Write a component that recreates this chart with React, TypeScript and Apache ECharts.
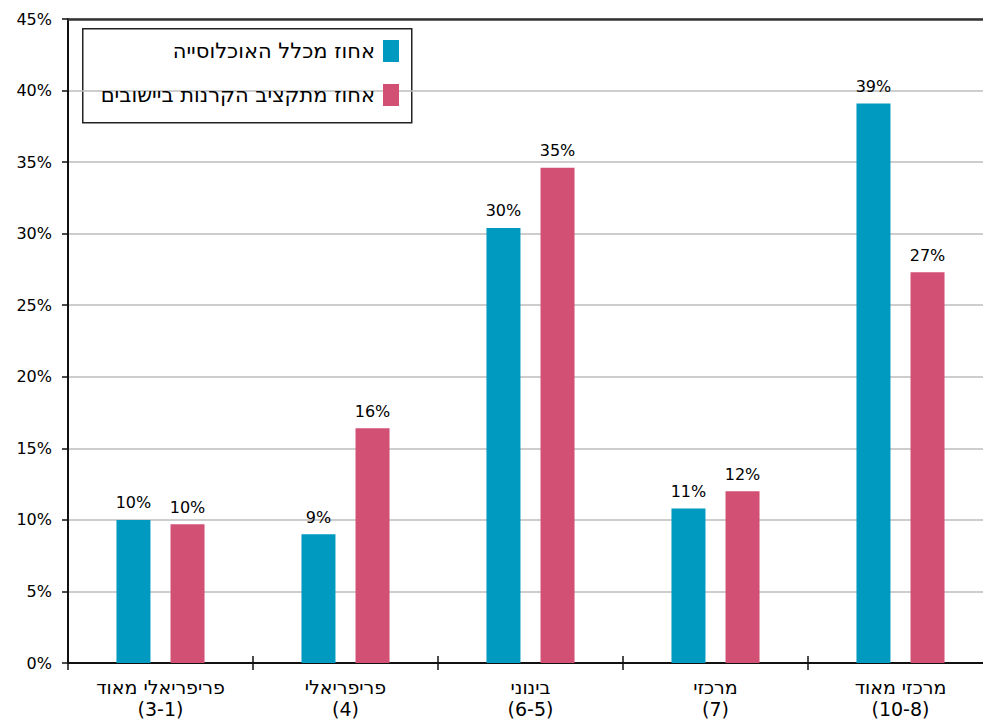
import React, { useEffect, useRef } from "react";
import * as echarts from "echarts";

// Peripherality clusters (Hebrew labels, two lines each)
const categories = [
  "פריפריאלי מאוד\n(3-1)",
  "פריפריאלי\n(4)",
  "בינוני\n(6-5)",
  "מרכזי\n(7)",
  "מרכזי מאוד\n(10-8)",
];

const seriesNames = ["אחוז מכלל האוכלוסייה", "אחוז מתקציב הקרנות ביישובים"];

// Percent of total population
const populationShare = [10.0, 9.0, 30.4, 10.8, 39.1];
// Percent of the funds' budget in localities
const budgetShare = [9.7, 16.4, 34.6, 12.0, 27.3];

const yTicks = { min: 0, max: 45, interval: 5 };

const BLUE = "#009ac1";
const PINK = "#d15073";
const FONT = "DejaVu Sans";
const HEB_FONT = "DejaVu Sans";

export default function App() {
  const ref = useRef<HTMLDivElement>(null);

  useEffect(() => {
    if (!ref.current) return;
    const chart = echarts.init(ref.current, undefined, { renderer: "svg" });

    const barLabel = {
      show: true,
      position: "top" as const,
      distance: 9,
      color: "#000",
      fontFamily: FONT,
      fontSize: 16,
      formatter: (p: any) => `${Math.round(p.value)}%`,
    };

    chart.setOption({
      animation: false,
      backgroundColor: "#fff",
      grid: {
        left: 68,
        top: 19,
        width: 925,
        height: 644,
        containLabel: false,
        outerBoundsMode: "none",
      },
      legend: {
        orient: "vertical",
        right: 584,
        top: 40,
        align: "right",
        padding: 0,
        itemWidth: 16,
        itemHeight: 22,
        itemGap: 22,
        icon: "rect",
        textStyle: { fontFamily: HEB_FONT, fontSize: 21, color: "#000", padding: [0, 3, 0, 0] },
        data: seriesNames,
      },
      graphic: [
        {
          type: "rect",
          left: 82,
          top: 28,
          z: -1,
          shape: { width: 329, height: 94 },
          style: { fill: "#fff", stroke: "#222", lineWidth: 1.5 },
        },
      ],
      xAxis: [
        {
          type: "category",
          data: categories,
          position: "bottom",
          axisLine: { lineStyle: { color: "#111", width: 2 } },
          axisTick: { show: true, length: 7, lineStyle: { color: "#111", width: 1.5 } },
          axisLabel: {
            margin: 13,
            color: "#000",
            fontFamily: HEB_FONT,
            fontSize: 19,
            lineHeight: 22,
          },
        },
        {
          type: "category",
          data: categories,
          position: "bottom",
          axisLine: { show: false },
          axisTick: { show: true, inside: true, length: 7, lineStyle: { color: "#111", width: 1.5 } },
          axisLabel: { show: false },
        },
        {
          type: "category",
          data: categories,
          position: "top",
          axisLine: { show: true, lineStyle: { color: "#333", width: 2.5 } },
          axisTick: { show: false },
          axisLabel: { show: false },
        },
      ],
      yAxis: {
        type: "value",
        min: yTicks.min,
        max: yTicks.max,
        interval: yTicks.interval,
        axisLine: { show: true, lineStyle: { color: "#111", width: 2 } },
        axisTick: { show: true, length: 6, lineStyle: { color: "#111", width: 1.5 } },
        axisLabel: {
          margin: 16,
          color: "#000",
          fontFamily: FONT,
          fontSize: 16,
          formatter: "{value}%",
        },
        splitLine: { show: true, lineStyle: { color: "#bdbdbd", width: 1.5 } },
      },
      series: [
        {
          name: seriesNames[0],
          type: "bar",
          data: populationShare,
          barWidth: 34,
          barGap: "59%",
          itemStyle: { color: BLUE },
          label: barLabel,
        },
        {
          name: seriesNames[1],
          type: "bar",
          data: budgetShare,
          barWidth: 34,
          barGap: "59%",
          itemStyle: { color: PINK },
          label: barLabel,
        },
      ],
    });

    return () => chart.dispose();
  }, []);

  return (
    <div
      ref={ref}
      style={{ position: "fixed", left: 0, top: 0, width: 983, height: 720, background: "#fff" }}
    />
  );
}
